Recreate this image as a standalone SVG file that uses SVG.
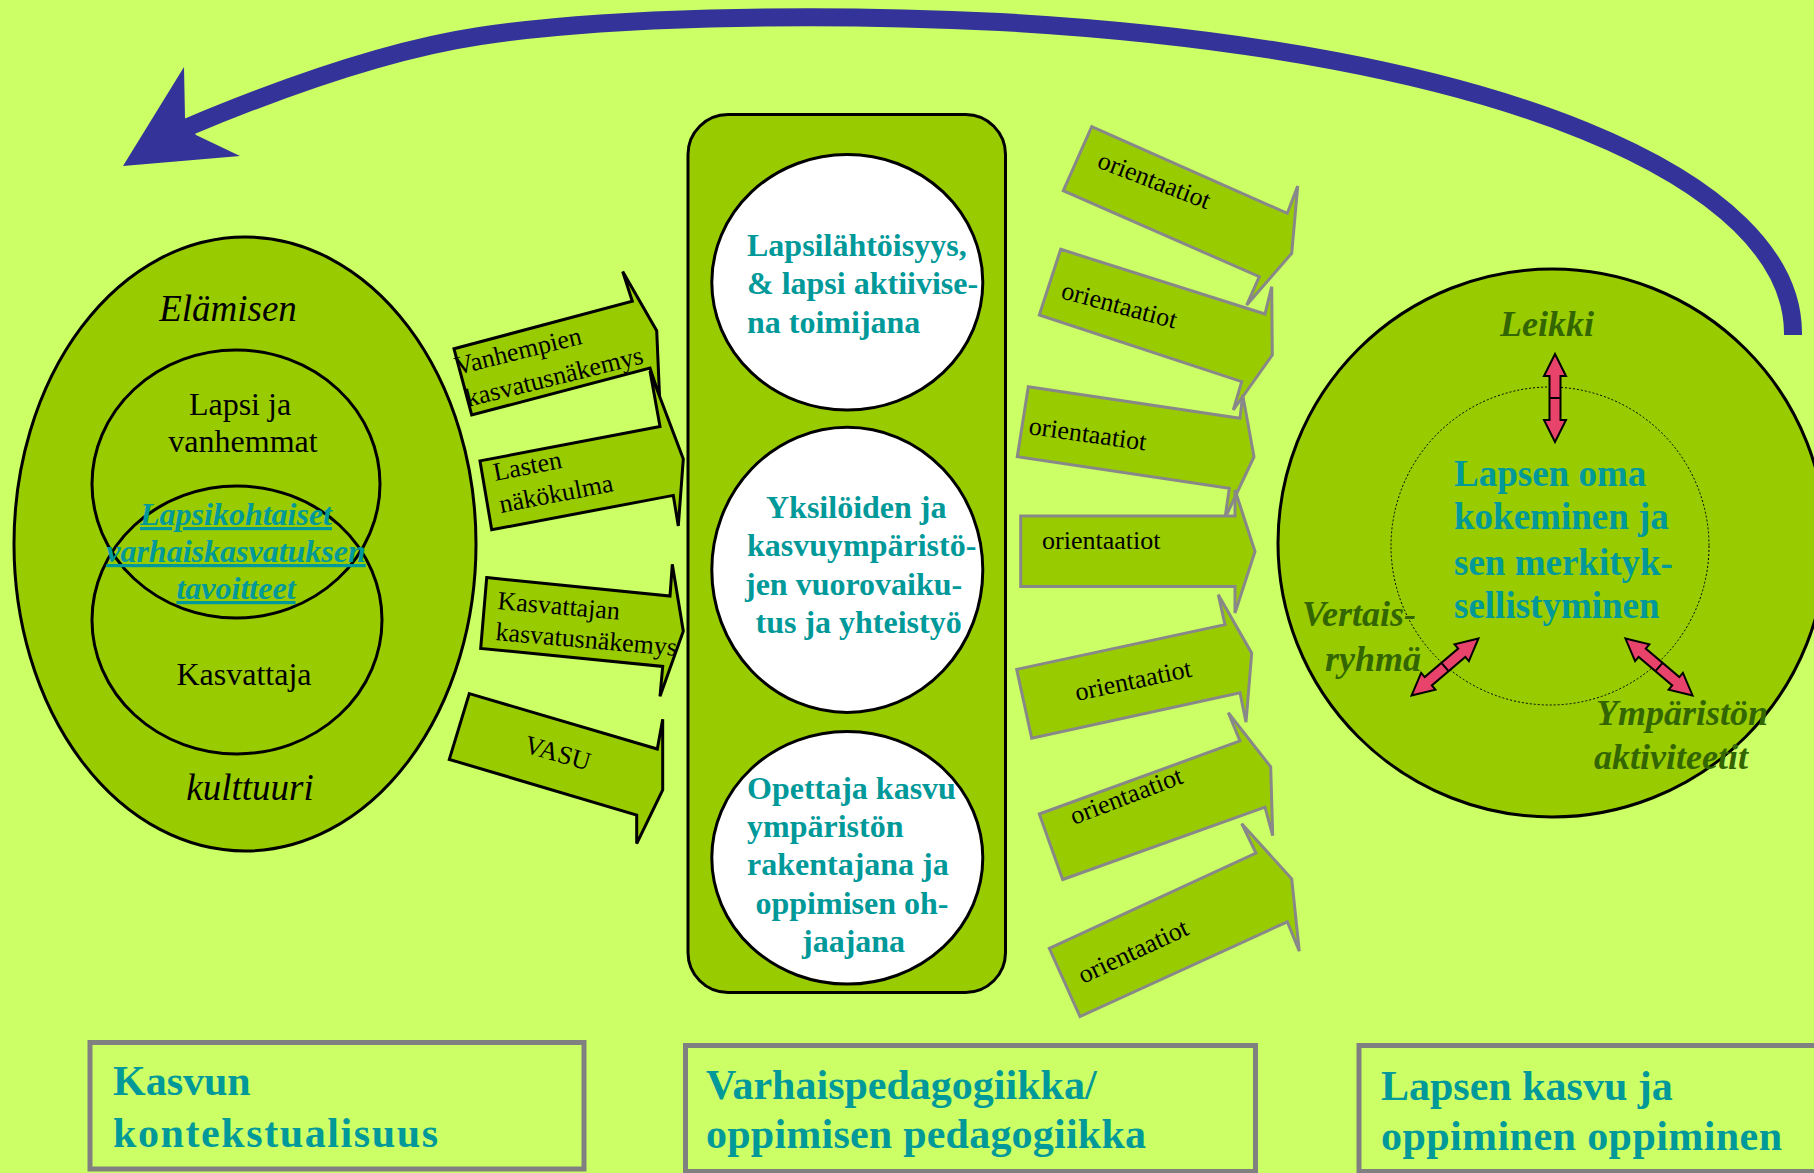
<svg xmlns="http://www.w3.org/2000/svg" width="1814" height="1173" viewBox="0 0 1814 1173">
<defs>
<style>
.bg{fill:#CCFF66}
.g{fill:#99CC00;stroke:#000;stroke-width:3}
.wc{fill:#fff;stroke:#000;stroke-width:3}
.la{fill:#99CC00;stroke:#000;stroke-width:3;stroke-linejoin:miter}
.ra{fill:#99CC00;stroke:#888;stroke-width:3;stroke-linejoin:miter}
.box{fill:#CCFF66;stroke:#808080;stroke-width:5}
.t{font-family:"Liberation Serif","Times New Roman",serif;fill:#000}
.r26{font-size:26px}
.r32{font-size:32px}
.i37{font-size:37px;font-style:italic}
.tb{font-family:"Liberation Serif","Times New Roman",serif;font-weight:bold;fill:#009999}
.dg{font-family:"Liberation Serif","Times New Roman",serif;font-weight:bold;font-style:italic;fill:#336600;font-size:36px}
.pk{fill:#E8436B;stroke:#000;stroke-width:2}
</style>
<polygon id="dbl" points="-44,0 -22,-11 -22,-5.5 22,-5.5 22,-11 44,0 22,11 22,5.5 -22,5.5 -22,11"/>
</defs>
<rect class="bg" x="0" y="0" width="1814" height="1173"/>

<g id="loop-arrow">
<path d="M1793,335 C1795,180 1500,50 1000,22 C800,12 600,18 480,36 C400,48 300,80 188,127" fill="none" stroke="#333399" stroke-width="18"/>
<polygon points="123,166 184,67 185,118 196,135 240,156" fill="#333399"/>
</g>

<g id="context">
<ellipse class="g" cx="245" cy="544" rx="231" ry="307"/>
<ellipse cx="236" cy="484" rx="144" ry="134" fill="none" stroke="#000" stroke-width="3"/>
<ellipse cx="237" cy="620" rx="145" ry="134" fill="none" stroke="#000" stroke-width="3"/>
<text class="t i37" x="228" y="321" text-anchor="middle">Elämisen</text>
<text class="t r32" x="240" y="415" text-anchor="middle">Lapsi ja</text>
<text class="t r32" x="243" y="452" text-anchor="middle">vanhemmat</text>
<g class="tb" font-size="32" font-style="italic" text-decoration="underline" text-anchor="middle">
<text x="236" y="525">Lapsikohtaiset</text>
<text x="236" y="562">varhaiskasvatuksen</text>
<text x="236" y="599">tavoitteet</text>
</g>
<text class="t r32" x="244" y="685" text-anchor="middle">Kasvattaja</text>
<text class="t i37" x="250" y="800" text-anchor="middle">kulttuuri</text>
</g>

<g id="input-arrows">
<g id="arrow-vanhempien">
<polygon class="la" points="454,348.8 632.3,301.3 622.7,271.5 656.7,330.8 659.6,397 650,368 471.7,415"/>
<text class="t r26" transform="rotate(-14 457 375)" x="457" y="375">Vanhempien</text>
<text class="t r26" transform="rotate(-14 468 407)" x="468" y="407">kasvatusnäkemys</text>
</g>
<g id="arrow-lasten">
<polygon class="la" points="480,460.9 660,426.5 650,371 683.3,459 678.3,526 673.3,495.4 491.7,529.8"/>
<text class="t r26" transform="rotate(-11 495 481)" x="495" y="481">Lasten</text>
<text class="t r26" transform="rotate(-11 501 513)" x="501" y="513">näkökulma</text>
</g>
<g id="arrow-kasvattajan">
<polygon class="la" points="486.7,577.6 670,596 672.3,564.3 683.3,631.2 660,696.3 662.7,666.4 480.7,648.4"/>
<text class="t r26" transform="rotate(5 497 609)" x="497" y="609">Kasvattajan</text>
<text class="t r26" transform="rotate(5 495 640)" x="495" y="640">kasvatusnäkemys</text>
</g>
<g id="arrow-vasu">
<polygon class="la" points="469.3,693.6 657.3,749 662.7,719.2 662.7,790 636.7,843.6 636.7,815 449.3,759.4"/>
<text class="t r26" transform="rotate(16 523 752)" x="523" y="752">VASU</text>
</g>
</g>

<g id="pedagogy">
<rect class="g" x="688" y="114.5" width="317.5" height="878" rx="40" ry="40"/>
<g id="circle-lapsilahtoisyys">
<ellipse class="wc" cx="847.3" cy="282.3" rx="135.5" ry="127.8"/>
<g class="tb" font-size="32">
<text x="747" y="256">Lapsilähtöisyys,</text>
<text x="747" y="294">&amp; lapsi aktiivise-</text>
<text x="747" y="332.5">na toimijana</text>
</g>
</g>
<g id="circle-yksiloiden">
<ellipse class="wc" cx="847.3" cy="569.9" rx="135.5" ry="142.6"/>
<g class="tb" font-size="32">
<text x="766" y="518">Yksilöiden ja</text>
<text x="747" y="556">kasvuympäristö-</text>
<text x="745" y="595">jen vuorovaiku-</text>
<text x="755.5" y="633">tus ja yhteistyö</text>
</g>
</g>
<g id="circle-opettaja">
<ellipse class="wc" cx="847.3" cy="857.8" rx="135.5" ry="126.3"/>
<g class="tb" font-size="32">
<text x="747" y="799">Opettaja kasvu</text>
<text x="747" y="837">ympäristön</text>
<text x="747" y="875">rakentajana ja</text>
<text x="755.5" y="914">oppimisen oh-</text>
<text x="802" y="952">jaajana</text>
</g>
</g>
</g>

<g id="orientation-arrows">
<g id="or-1">
<polygon class="ra" points="1091.7,126.7 1287.3,213.3 1297.7,186 1291.7,253.3 1246.7,305 1259.3,276.7 1063.3,190.7"/>
<text class="t r26" transform="rotate(21 1096 167)" x="1096" y="167">orientaatiot</text>
</g>
<g id="or-2">
<polygon class="ra" points="1060.7,249.3 1265,314 1271.7,286.7 1272.3,355 1233.3,410 1241.7,381.7 1039.3,315"/>
<text class="t r26" transform="rotate(15 1060 298)" x="1060" y="298">orientaatiot</text>
</g>
<g id="or-3">
<polygon class="ra" points="1028.3,386.7 1240,418.3 1242.7,395 1254,456.7 1225,518.3 1229.3,488.3 1017.3,456.7"/>
<text class="t r26" transform="rotate(8 1028 434)" x="1028" y="434">orientaatiot</text>
</g>
<g id="or-4">
<polygon class="ra" points="1020.7,516 1235,516 1235,490 1255,551.5 1235,613 1235,586.5 1020.7,586.5"/>
<text class="t r26" x="1042" y="549">orientaatiot</text>
</g>
<g id="or-5">
<polygon class="ra" points="1016.7,669.4 1225,624.7 1218.3,594.7 1251.7,653.2 1246,722.1 1240,692.8 1031.7,738.3"/>
<text class="t r26" transform="rotate(-12 1077 701)" x="1077" y="701">orientaatiot</text>
</g>
<g id="or-6">
<polygon class="ra" points="1039.3,814 1240,741 1228.3,712.8 1270.7,766.9 1272.7,835.7 1265,807.2 1062.7,879.5"/>
<text class="t r26" transform="rotate(-21 1074 825)" x="1074" y="825">orientaatiot</text>
</g>
<g id="or-7">
<polygon class="ra" points="1049.3,948.3 1256,853 1241.7,823.7 1291.7,878.8 1299.3,951.1 1287.3,921.8 1080,1016.5"/>
<text class="t r26" transform="rotate(-25 1083 984)" x="1083" y="984">orientaatiot</text>
</g>
</g>

<g id="learning">
<circle class="g" cx="1552" cy="543" r="274"/>
<circle cx="1550" cy="546" r="159" fill="none" stroke="#000" stroke-width="1" stroke-dasharray="2,2"/>
<text class="dg" x="1500" y="336">Leikki</text>
<g class="tb" font-size="37">
<text x="1454" y="486">Lapsen oma</text>
<text x="1454" y="529">kokeminen ja</text>
<text x="1454" y="575">sen merkityk-</text>
<text x="1454" y="618">sellistyminen</text>
</g>
<text class="dg" x="1416" y="626" text-anchor="end">Vertais-</text>
<text class="dg" x="1421" y="671" text-anchor="end">ryhmä</text>
<text class="dg" x="1596" y="725">Ympäristön</text>
<text class="dg" x="1594" y="769">aktiviteetit</text>
<g id="arrow-leikki" transform="translate(1555 398) rotate(90)">
<use href="#dbl" class="pk"/>
<line x1="0" y1="-5.5" x2="0" y2="5.5" stroke="#000" stroke-width="2"/>
</g>
<g id="arrow-vertais" transform="translate(1445 667) rotate(-40.5)">
<use href="#dbl" class="pk"/>
<line x1="0" y1="-5.5" x2="0" y2="5.5" stroke="#000" stroke-width="2"/>
</g>
<g id="arrow-ymparisto" transform="translate(1659 667) rotate(40.3)">
<use href="#dbl" class="pk"/>
<line x1="0" y1="-5.5" x2="0" y2="5.5" stroke="#000" stroke-width="2"/>
</g>
</g>

<g id="label-kasvun">
<rect class="box" x="90" y="1042.5" width="494" height="126.5"/>
<g class="tb" font-size="42">
<text x="113" y="1095">Kasvun</text>
<text x="113" y="1147" textLength="325" lengthAdjust="spacing">kontekstualisuus</text>
</g>
</g>
<g id="label-varhaispedagogiikka">
<rect class="box" x="685.5" y="1045.5" width="570" height="126"/>
<g class="tb" font-size="42">
<text x="706" y="1099">Varhaispedagogiikka/</text>
<text x="706" y="1148" textLength="440" lengthAdjust="spacing">oppimisen pedagogiikka</text>
</g>
</g>
<g id="label-lapsen">
<rect class="box" x="1359" y="1045.5" width="470" height="126"/>
<g class="tb" font-size="42">
<text x="1381" y="1100">Lapsen kasvu ja</text>
<text x="1381" y="1150" textLength="401" lengthAdjust="spacing">oppiminen oppiminen</text>
</g>
</g>
</svg>
